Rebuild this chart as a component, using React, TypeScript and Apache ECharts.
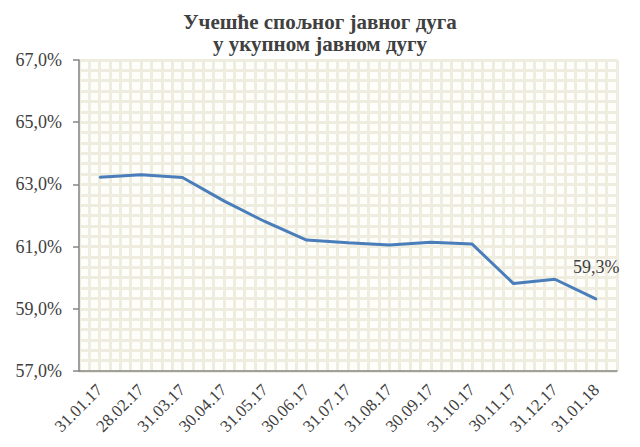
import React, { useEffect, useRef } from "react";
import * as echarts from "echarts";

const titleLines = ["Учешће спољног јавног дуга", "у укупном јавном дугу"];
const categories = [
  "31.01.17", "28.02.17", "31.03.17", "30.04.17", "31.05.17", "30.06.17",
  "31.07.17", "31.08.17", "30.09.17", "31.10.17", "30.11.17", "31.12.17", "31.01.18",
];
const shares = [63.23, 63.31, 63.22, 62.47, 61.8, 61.21, 61.12, 61.05, 61.14, 61.08, 59.81, 59.95, 59.31];
const yMin = 57;
const yMax = 67;
const yStep = 2;

const serif = "Liberation Serif";
const patternColor = "#EFECE0";
const textColor = "#404040";

export default function App() {
  const ref = useRef<HTMLDivElement>(null);
  useEffect(() => {
    if (!ref.current) return;
    const chart = echarts.init(ref.current, undefined, { renderer: "svg" });
    const last = shares.length - 1;
    chart.setOption({
      animation: false,
      backgroundColor: "#ffffff",
      title: {
        text: titleLines.join("\n"),
        left: "center",
        top: 6,
        textStyle: {
          fontFamily: serif,
          fontWeight: "bold",
          fontSize: 21,
          lineHeight: 22,
          color: textColor,
        },
      },
      grid: { left: 79, right: 23, top: 60, bottom: 76, backgroundColor: "#FEFEFB", show: true, borderWidth: 0 },
      xAxis: [
        {
          type: "category",
          data: categories,
          axisLine: { lineStyle: { color: "#868686", width: 1.5 } },
          axisTick: { lineStyle: { color: "#868686", width: 1.5 }, length: 6 },
          axisLabel: {
            rotate: 45,
            fontFamily: serif,
            fontSize: 17,
            color: textColor,
            margin: 16,
            interval: 0,
          },
          splitLine: { show: false },
          z: 5,
        },
        {
          type: "value",
          min: 0,
          max: categories.length * 4,
          interval: 1,
          show: true,
          position: "top",
          axisLine: { show: false },
          axisTick: { show: false },
          axisLabel: { show: false },
          splitLine: { show: true, lineStyle: { color: patternColor, width: 3 } },
        },
      ],
      yAxis: {
        type: "value",
        min: yMin,
        max: yMax,
        interval: yStep,
        axisLine: { show: true, lineStyle: { color: "#868686", width: 1.5 } },
        axisTick: { show: true, lineStyle: { color: "#868686", width: 1.5 }, length: 6 },
        axisLabel: {
          fontFamily: serif,
          fontSize: 18,
          color: textColor,
          margin: 17,
          formatter: (v: number) => v.toFixed(1).replace(".", ",") + "%",
        },
        splitLine: { show: true, lineStyle: { color: patternColor, width: 3 } },
        minorTick: { show: false, splitNumber: 6 },
        minorSplitLine: { show: true, lineStyle: { color: patternColor, width: 3 } },
        z: 5,
      },
      series: [
        {
          type: "line",
          data: shares,
          xAxisIndex: 0,
          symbol: "circle",
          symbolSize: 2,
          showSymbol: true,
          itemStyle: { color: "#4A7EBB" },
          lineStyle: { color: "#4A7EBB", width: 3 },
          label: {
            show: true,
            position: "top",
            distance: 22,
            offset: [8, 0],
            fontFamily: serif,
            fontSize: 18,
            color: textColor,
            formatter: (p: any) =>
              p.dataIndex === last ? p.value.toFixed(1).replace(".", ",") + "%" : "",
          },
          labelLayout: { hideOverlap: false },
          z: 10,
        },
      ],
    });
    return () => chart.dispose();
  }, []);
  return (
    <div
      ref={ref}
      style={{ position: "fixed", left: 0, top: 0, width: 640, height: 447 }}
    />
  );
}
